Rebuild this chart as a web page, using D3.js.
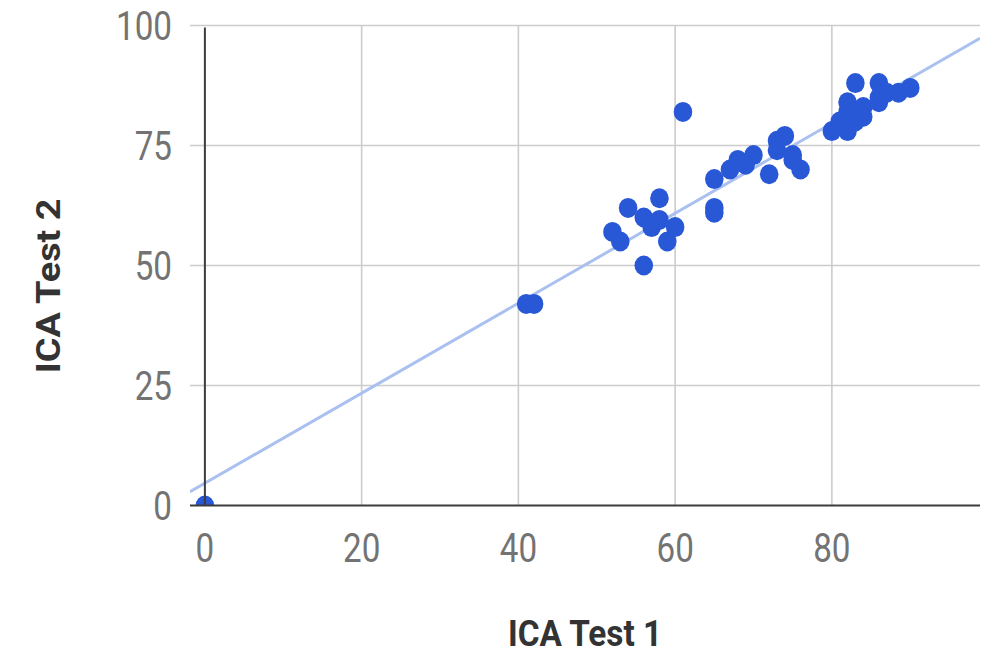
<!DOCTYPE html>
<html>
<head>
<meta charset="utf-8">
<script src="https://cdn.jsdelivr.net/npm/d3@7"></script>
<style>
  html, body { margin: 0; padding: 0; background: #fff; }
  svg { display: block; }
</style>
</head>
<body>
<svg id="chart" width="994" height="656"></svg>
<script>
// Scores on the two ICA tests, one point per student
const test1 = [0, 41, 42, 52, 53, 54, 56, 56, 57, 58, 58, 59, 60, 61,
  65, 65, 65, 67, 68, 70, 69, 72, 73, 73, 74, 75, 76, 75,
  80, 82, 81, 82, 82, 83, 83, 84, 84, 86, 86, 87, 88.5, 86, 90];
const test2 = [0, 42, 42, 57, 55, 62, 60, 50, 58, 64, 59.5, 55, 58, 82,
  68, 62, 61, 70, 72, 73, 71, 69, 76, 74, 77, 73, 70, 72,
  78, 78, 80, 84, 82, 88, 80, 83, 81, 88, 85, 86, 86, 84, 87];

// Linear trendline fitted to the scores
const trendSlope = 0.937;
const trendIntercept = 4.67;

const xTicks = [0, 20, 40, 60, 80];
const yTicks = [0, 25, 50, 75, 100];

const xTitle = "ICA Test 1";
const yTitle = "ICA Test 2";

const svg = d3.select("#chart");
const area = { left: 190, right: 980, top: 25.5, bottom: 505.5 };

const x = d3.scaleLinear().domain([-1.9, 98.9]).range([area.left, area.right]);
const y = d3.scaleLinear().domain([0, 100]).range([area.bottom, area.top]);

const labelColor = "#737373";
const titleColor = "#333333";

// gridlines
const grid = svg.append("g");
grid.selectAll("line.h").data(yTicks.filter(d => d !== 0)).join("line")
  .attr("x1", area.left).attr("x2", area.right)
  .attr("y1", d => y(d)).attr("y2", d => y(d))
  .attr("stroke", "#cccccc").attr("stroke-width", 1.6);
grid.selectAll("line.v").data(xTicks.filter(d => d !== 0)).join("line")
  .attr("x1", d => x(d)).attr("x2", d => x(d))
  .attr("y1", area.top).attr("y2", area.bottom)
  .attr("stroke", "#cccccc").attr("stroke-width", 1.6);

// clip region for the plotted marks
svg.append("clipPath").attr("id", "plotClip")
  .append("rect")
  .attr("x", area.left).attr("y", area.top)
  .attr("width", area.right - area.left).attr("height", area.bottom - area.top);

const plot = svg.append("g").attr("clip-path", "url(#plotClip)");

// trendline
const tx = x.domain();
plot.append("line")
  .attr("x1", x(tx[0])).attr("y1", y(trendIntercept + trendSlope * tx[0]))
  .attr("x2", x(tx[1])).attr("y2", y(trendIntercept + trendSlope * tx[1]))
  .attr("stroke", "#a9c0f0").attr("stroke-width", 3);

// axis lines at zero
svg.append("line")
  .attr("x1", x(0)).attr("x2", x(0))
  .attr("y1", area.top + 2).attr("y2", area.bottom)
  .attr("stroke", "#3c3c3c").attr("stroke-width", 2);
svg.append("line")
  .attr("x1", area.left).attr("x2", area.right)
  .attr("y1", y(0)).attr("y2", y(0))
  .attr("stroke", "#3c3c3c").attr("stroke-width", 2);

// points
const pts = test1.map((v, i) => ({ a: v, b: test2[i] }));
plot.selectAll("ellipse").data(pts).join("ellipse")
  .attr("cx", d => x(d.a)).attr("cy", d => y(d.b))
  .attr("rx", 9.3).attr("ry", 10)
  .attr("fill", "#2858d6");

// tick labels
const font = "Roboto, 'Noto Sans', sans-serif";
svg.append("g").selectAll("text").data(xTicks).join("text")
  .attr("transform", d => `translate(${x(d)},${562}) scale(0.83,1)`)
  .attr("text-anchor", "middle")
  .attr("font-family", font).attr("font-size", 40)
  .attr("fill", labelColor)
  .text(d => d);

svg.append("g").selectAll("text").data(yTicks).join("text")
  .attr("transform", d => `translate(${172},${y(d) + 14}) scale(0.83,1)`)
  .attr("text-anchor", "end")
  .attr("font-family", font).attr("font-size", 40)
  .attr("fill", labelColor)
  .text(d => d);

// axis titles
svg.append("text")
  .attr("transform", `translate(585,646) scale(0.9,1)`)
  .attr("text-anchor", "middle")
  .attr("font-family", font).attr("font-weight", "bold").attr("font-size", 37)
  .attr("fill", titleColor)
  .text(xTitle);

svg.append("text")
  .attr("transform", `translate(60,286) rotate(-90) scale(1.02,0.9)`)
  .attr("text-anchor", "middle")
  .attr("font-family", font).attr("font-weight", "bold").attr("font-size", 37)
  .attr("fill", titleColor)
  .text(yTitle);
</script>
</body>
</html>
